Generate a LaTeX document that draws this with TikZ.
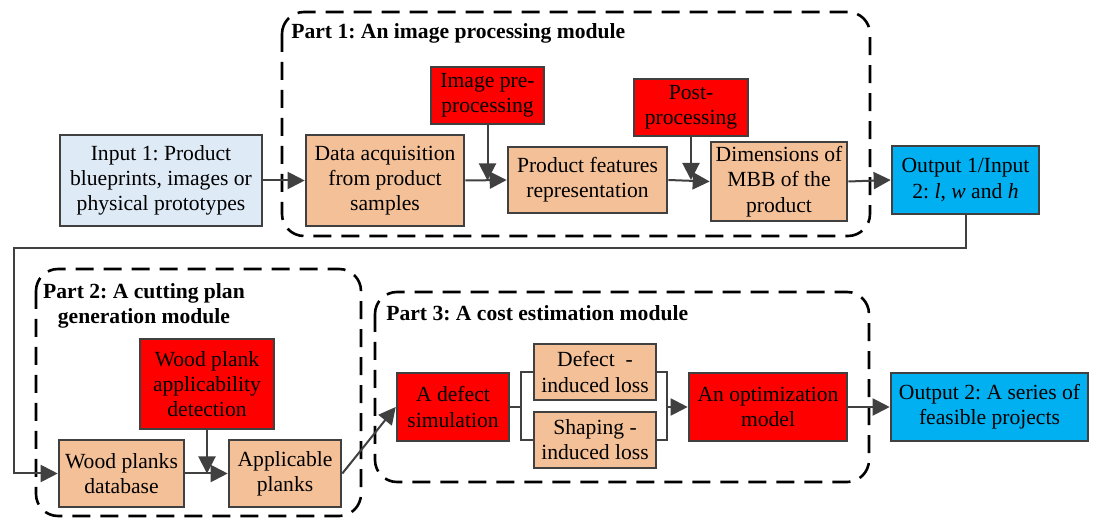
\documentclass[tikz,border=0pt]{standalone}
\usepackage{fontspec}
\setmainfont{Liberation Serif}
\usetikzlibrary{arrows.meta}
\definecolor{edgegray}{HTML}{404040}
\definecolor{inblue}{HTML}{DEEAF6}
\definecolor{peach}{HTML}{F4C098}
\definecolor{outblue}{HTML}{00B0F0}
\frenchspacing

\begin{document}
\begin{tikzpicture}[x=0.5pt, y=-0.5pt,
  box/.style={draw=edgegray, line width=1.3pt, align=center, inner sep=1pt, font=\fontsize{10.8}{12.6}\selectfont},
  inbox/.style={box, fill=inblue},
  stepbox/.style={box, fill=peach},
  redbox/.style={box, fill=red},
  outbox/.style={box, fill=outblue},
  arr/.style={draw=edgegray, line width=1pt, -{Triangle[length=8.5pt,width=8.5pt]}},
  link/.style={draw=edgegray, line width=1pt},
  partbox/.style={draw=black, line width=1.3pt, dash pattern=on 9pt off 5pt, rounded corners=11pt},
  partlabel/.style={font=\bfseries\fontsize{10.8}{12.6}\selectfont, align=center, inner sep=0pt}]

  \path[use as bounding box, fill=white] (0,0) rectangle (1094,518);

  %%%%% part boxes %%%%%
  \draw[partbox] (282,12) rectangle (870,236);
  \draw[partbox] (36,269) rectangle (361,516);
  \draw[partbox] (375,292) rectangle (869,482);

  \node[partlabel, anchor=west] (p1) at (291,33) {Part 1: An image processing module};
  \node[partlabel] (p2) at (144,306) {Part 2: A cutting plan\\generation module};
  \node[partlabel, anchor=west] (p3) at (386,313) {Part 3: A cost estimation module};

  %%%%% part 1 %%%%%
  \node[inbox, minimum width=101pt, minimum height=45.5pt] (in1) at (161,180.5) {Input 1: Product\\blueprints, images or\\physical prototypes};
  \node[stepbox, minimum width=79pt, minimum height=45.5pt] (daq) at (385,180.5) {Data acquisition\\from product\\samples};
  \node[redbox, minimum width=56.5pt, minimum height=28.5pt] (pre) at (487.5,95.5) {Image pre-\\processing};
  \node[stepbox, minimum width=79.5pt, minimum height=33pt] (feat) at (587.5,180) {Product features\\representation};
  \node[redbox, minimum width=57pt, minimum height=28.5pt] (post) at (691,107.5) {Post-\\processing};
  \node[stepbox, minimum width=68pt, minimum height=39.5pt] (mbb) at (779,181.5) {Dimensions of\\MBB of the\\product};
  \node[outbox, minimum width=73.5pt, minimum height=34pt] (out1) at (965.5,180) {Output 1/Input\\2: \textit{l}, \textit{w} and \textit{h}};

  \draw[arr] (in1.east) -- (daq.west);
  \draw[arr] (daq.east) -- (feat.west);
  \draw[arr] (feat.east) -- (mbb.west);
  \draw[arr] (mbb.east) -- (out1.west);
  \draw[arr] (pre.south) -- (pre.south |- daq.east);
  \draw[arr] (post.south) -- (post.south |- feat.east);

  %%%%% part 2 %%%%%
  \node[redbox, minimum width=67pt, minimum height=45pt] (det) at (207,384) {Wood plank\\applicability\\detection};
  \node[stepbox, minimum width=62.5pt, minimum height=33.5pt] (db) at (121.5,473.5) {Wood planks\\database};
  \node[stepbox, minimum width=56pt, minimum height=33.5pt] (app) at (285,473.5) {Applicable\\planks};

  \draw[arr] (out1.south) |- (14,248) |- (db.west);
  \draw[arr] (db.east) -- (app.west);
  \draw[arr] (det.south) -- (det.south |- db.east);

  %%%%% part 3 %%%%%
  \node[redbox, minimum width=56pt, minimum height=34pt] (sim) at (453,407) {A defect\\simulation};
  \node[stepbox, minimum width=61pt, minimum height=28pt] (dl) at (595,372) {Defect\ \ -\\induced loss};
  \node[stepbox, minimum width=61pt, minimum height=28pt] (sl) at (595,440) {Shaping -\\induced loss};
  \node[redbox, minimum width=79pt, minimum height=34pt] (opt) at (768,407) {An optimization\\model};
  \node[outbox, minimum width=98.5pt, minimum height=34pt] (out2) at (989.5,407) {Output 2: A series of\\feasible projects};

  \coordinate (split) at (521,407);
  \coordinate (join) at (667,407);

  \draw[arr] (app.east) -- (sim.west);
  \draw[link] (sim.east) -- (split);
  \draw[link] (dl.west) -| (split) |- (sl.west);
  \draw[link] (dl.east) -| (join) |- (sl.east);
  \draw[arr] (join) -- (opt.west);
  \draw[arr] (opt.east) -- (out2.west);
\end{tikzpicture}
\end{document}
